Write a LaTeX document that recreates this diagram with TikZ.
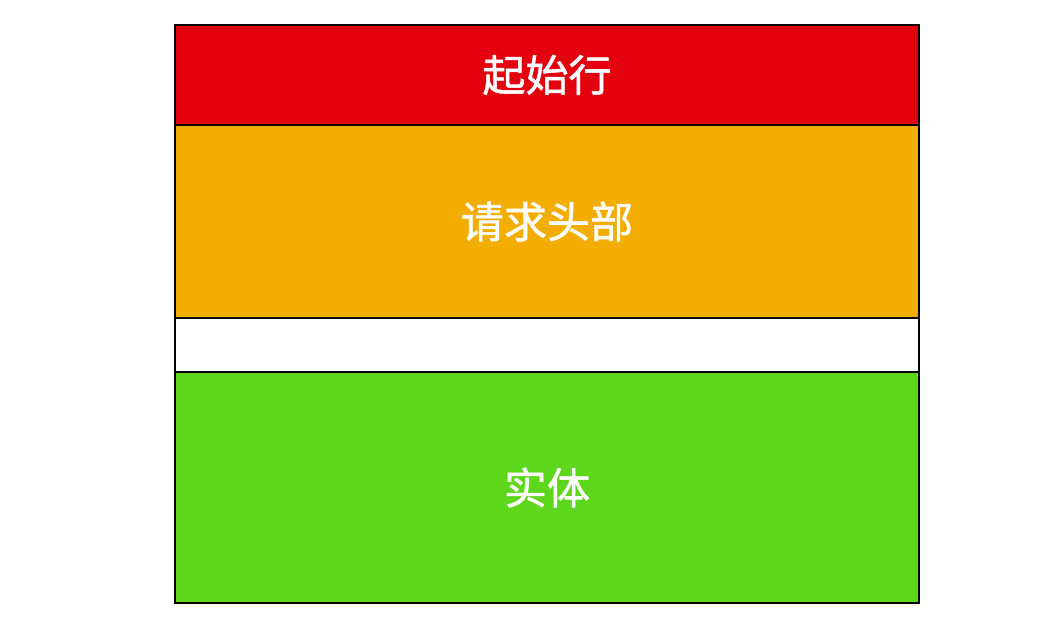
\documentclass[tikz,border=0pt]{standalone}
\usepackage{fontspec}
\newfontfamily\cjk[FakeBold=1.2]{Noto Sans CJK SC}
\usetikzlibrary{positioning}
\definecolor{startred}{HTML}{E3000F}
\definecolor{headorange}{HTML}{F3AC00}
\definecolor{bodygreen}{HTML}{5DD61C}
\begin{document}
\begin{tikzpicture}[node distance=0cm, thick]
  \tikzset{part/.style={draw, rectangle, line width=1.1pt, outer sep=0pt, inner sep=0pt, minimum width=14.88cm, text=white, font=\cjk\fontsize{24.5}{28}\selectfont}}
  \useasboundingbox (0,0) rectangle (21.24,12.76);
  \node[part, fill=startred, minimum height=2cm, anchor=north west] (start) at (3.5,12.26) {起始行};
  \node[part, fill=headorange, minimum height=3.86cm, below=of start] (header) {请求头部};
  \node[part, fill=white, minimum height=1.08cm, below=of header] (blank) {};
  \node[part, fill=bodygreen, minimum height=4.62cm, below=of blank] (body) {实体};
\end{tikzpicture}
\end{document}
